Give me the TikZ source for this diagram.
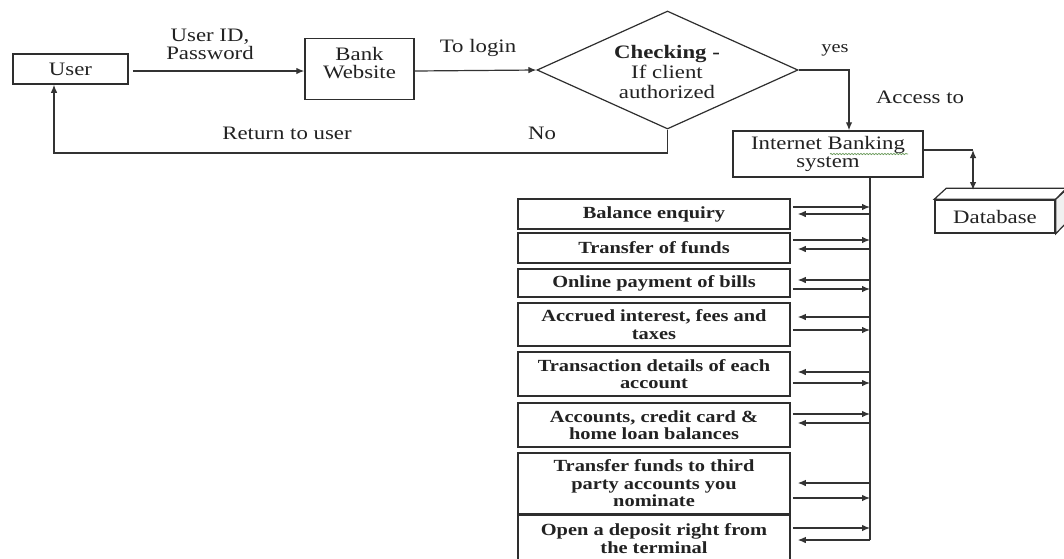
\documentclass[tikz,border=0pt]{standalone}
\usepackage{fontspec}
\setmainfont{Liberation Serif}[FakeStretch=1.2]
\usetikzlibrary{shapes.geometric,arrows.meta,calc,decorations.pathmorphing}
\definecolor{boxc}{HTML}{2E2E2E}
\definecolor{linec}{HTML}{333333}
\definecolor{txtc}{HTML}{222222}
\definecolor{spellc}{HTML}{6A9A5A}
\newcommand\regfont{\fontsize{19}{18}\selectfont}
\newcommand\featfont{\fontsize{17}{17.5}\selectfont\bfseries}
\begin{document}
\begin{tikzpicture}[x=1pt,y=-1pt,
  box/.style={draw=boxc, line width=1.5pt, inner sep=0pt, align=center, text=txtc},
  mainbox/.style={box, font=\regfont},
  feat/.style={box, minimum width=272pt, font=\featfont},
  lbl/.style={inner sep=0pt, align=center, text=txtc, font=\regfont},
  tip/.tip={Latex[length=8pt,width=6.5pt]},
  arr/.style={-tip, line width=1.2pt, draw=linec},
  dbl/.style={tip-tip, line width=1.2pt, draw=linec},
  ln/.style={line width=1.2pt, draw=linec}]
\fill[white] (0,0) rectangle (1064,558);
\useasboundingbox (0,0) rectangle (1064,558);

% top row
\node[mainbox, minimum width=115pt, minimum height=30pt] (user) at (70.5,69) {User};
\node[box, minimum width=109pt, minimum height=61pt] (bank) at (359.5,69) {};
\node[lbl] (banktxt) at (359.5,63) {Bank\\Website};
\node[diamond, draw=boxc, line width=1.2pt, minimum width=261pt, minimum height=118pt, inner sep=0pt] (chk) at (667.5,70) {};
\node[lbl, font=\fontsize{19}{20}\selectfont] (chktxt) at (667,72) {\textbf{Checking -}\\If client\\authorized};

\node[lbl] (uid) at (210,44) {User ID,\\Password};
\node[lbl] (tologin) at (478,48) {To login};
\node[lbl] (ret) at (287,133) {Return to user};
\node[lbl] (no) at (542,133) {No};
\node[lbl, font=\fontsize{17}{18}\selectfont] (yes) at (835,50) {yes};
\node[lbl] (acc) at (920,97) {Access to};

\coordinate (toprow) at (0,71);
\draw[arr] ([xshift=4pt]user.east |- toprow) -- (bank.west |- toprow);
\draw[arr] (bank.east |- toprow) -- (chk.west);
\coordinate (retc) at (54,153);
\draw[arr] (chk.south) |- (retc) -- (user.south -| retc);

% internet banking system
\node[box, minimum width=190pt, minimum height=46pt] (ibs) at (828,154) {};
\node[lbl] (ibstxt) at (828,154) {Internet Banking\\system};
\draw[arr] (chk.east) -| ([xshift=21pt]ibs.north);
\draw[spellc, line width=0.7pt, decorate, decoration={snake, amplitude=0.7pt, segment length=3pt}] (830,154) -- (908,154);

% database
\node[box, font=\regfont, minimum width=120pt, minimum height=33pt] (db) at (995,216.5) {Database};
\draw[boxc, line width=1.2pt, fill=white] (db.north west) -- ++(12,-11) -- ++(120,0) -- (db.north east) -- cycle;
\draw[boxc, line width=1.2pt, fill=gray!12] (db.north east) -- ++(12,-11) -- ++(0,33) -- (db.south east) -- cycle;
\coordinate (dbj) at (973,150);
\draw[ln] (ibs.east |- dbj) -- (dbj);
\draw[dbl] (dbj) -- (dbj |- 0,190);

% feature boxes
\node[feat, minimum height=30pt] (b1) at (654,214) {Balance enquiry};
\node[feat, minimum height=30pt] (b2) at (654,248) {Transfer of funds};
\node[feat, minimum height=28pt] (b3) at (654,283) {Online payment of bills};
\node[feat, minimum height=43pt] (b4) at (654,324.5) {Accrued interest, fees and\\taxes};
\node[feat, minimum height=44pt] (b5) at (654,374) {Transaction details of each\\account};
\node[feat, minimum height=44pt] (b6) at (654,425) {Accounts, credit card \&\\home loan balances};
\node[feat, minimum height=61pt] (b7) at (654,483.5) {Transfer funds to third\\party accounts you\\nominate};
\node[feat, minimum height=47pt] (b8) at (654,538.5) {Open a deposit right from\\the terminal};

% bus
\coordinate (busx) at (870,0);
\coordinate (busbot) at (870,540);
\draw[ln] (ibs.south -| busx) -- (busbot);

\newcommand\toBus[2]{\path ([xshift=2pt,yshift=#2]#1.east) coordinate (tmpa); \draw[arr] (tmpa) -- (tmpa -| busx);}
\newcommand\fromBus[2]{\path ([xshift=7pt,yshift=#2]#1.east) coordinate (tmpb); \draw[arr] (tmpb -| busx) -- (tmpb);}

\toBus{b1}{7pt}   \fromBus{b1}{0pt}
\toBus{b2}{8pt}   \fromBus{b2}{-1pt}
\fromBus{b3}{3pt} \toBus{b3}{-6pt}
\fromBus{b4}{7.5pt} \toBus{b4}{-5.5pt}
\fromBus{b5}{2pt} \toBus{b5}{-9pt}
\toBus{b6}{11pt}  \fromBus{b6}{2pt}
\fromBus{b7}{0.5pt} \toBus{b7}{-14.5pt}
\toBus{b8}{10.5pt} \fromBus{b8}{-1.5pt}
\end{tikzpicture}
\end{document}
